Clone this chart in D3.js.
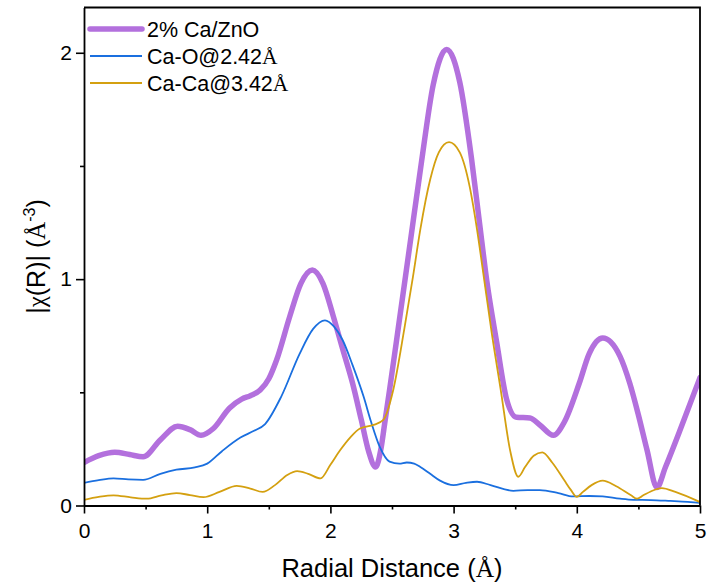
<!DOCTYPE html>
<html>
<head>
<meta charset="utf-8">
<script src="https://cdn.jsdelivr.net/npm/d3@7"></script>
<style>
  body { margin: 0; background: #fff; }
  svg { display: block; font-family: Arial, "Liberation Sans", sans-serif; }
</style>
</head>
<body>
<svg id="chart" width="723" height="586"></svg>
<script>
const margin = {top: 7.5, right: 23, bottom: 80.5, left: 84};
const width = 723 - margin.left - margin.right;
const height = 586 - margin.top - margin.bottom;

// 2% Ca/ZnO
const sampleR = [0, 0.12, 0.25, 0.37, 0.48, 0.62, 0.76, 0.86, 0.95, 1.05, 1.18, 1.28, 1.35, 1.43, 1.5, 1.564, 1.67, 1.76, 1.853, 1.94, 2.024, 2.1, 2.18, 2.25, 2.31, 2.367, 2.41, 2.44, 2.48, 2.55, 2.65, 2.74, 2.835, 2.944, 3.05, 3.146, 3.21, 3.27, 3.35, 3.43, 3.51, 3.62, 3.7, 3.81, 3.9, 4.02, 4.1, 4.21, 4.35, 4.43, 4.5, 4.57, 4.65, 4.72, 4.85, 5.0];
const sampleChi = [0.19, 0.22, 0.235, 0.225, 0.215, 0.29, 0.35, 0.335, 0.31, 0.34, 0.43, 0.47, 0.485, 0.51, 0.56, 0.644, 0.835, 0.98, 1.04, 0.98, 0.835, 0.69, 0.54, 0.38, 0.24, 0.17, 0.25, 0.36, 0.51, 0.78, 1.17, 1.52, 1.86, 2.015, 1.87, 1.53, 1.25, 0.99, 0.72, 0.47, 0.39, 0.387, 0.356, 0.31, 0.37, 0.54, 0.67, 0.74, 0.66, 0.54, 0.40, 0.245, 0.08, 0.17, 0.35, 0.565];

// Ca-O path
const caoR = [0, 0.12, 0.24, 0.36, 0.48, 0.62, 0.75, 0.9, 1.0, 1.12, 1.27, 1.38, 1.47, 1.6, 1.75, 1.86, 1.956, 2.03, 2.1, 2.18, 2.27, 2.33, 2.4, 2.48, 2.56, 2.62, 2.68, 2.73, 2.81, 2.89, 3.0, 3.1, 3.19, 3.3, 3.485, 3.6, 3.7, 3.85, 3.97, 4.1, 4.21, 4.35, 4.46, 4.6, 4.76, 4.9, 5.0];
const caoChi = [0.10, 0.112, 0.12, 0.115, 0.113, 0.14, 0.158, 0.168, 0.185, 0.24, 0.30, 0.33, 0.36, 0.48, 0.67, 0.78, 0.818, 0.79, 0.73, 0.62, 0.48, 0.37, 0.26, 0.194, 0.185, 0.19, 0.185, 0.17, 0.14, 0.11, 0.09, 0.10, 0.105, 0.09, 0.065, 0.068, 0.068, 0.055, 0.04, 0.042, 0.04, 0.03, 0.025, 0.024, 0.02, 0.016, 0.012];

// Ca-Ca path
const cacaR = [0, 0.12, 0.24, 0.38, 0.51, 0.63, 0.75, 0.86, 0.97, 1.1, 1.24, 1.35, 1.45, 1.55, 1.65, 1.73, 1.82, 1.92, 2.0, 2.08, 2.16, 2.24, 2.35, 2.43, 2.51, 2.6, 2.67, 2.73, 2.81, 2.88, 2.963, 3.05, 3.13, 3.19, 3.24, 3.31, 3.38, 3.46, 3.525, 3.58, 3.65, 3.72, 3.8, 3.9, 3.95, 4.0, 4.05, 4.12, 4.21, 4.32, 4.44, 4.49, 4.54, 4.6, 4.69, 4.8, 5.0];
const cacaChi = [0.025, 0.038, 0.045, 0.036, 0.03, 0.045, 0.055, 0.046, 0.037, 0.06, 0.087, 0.075, 0.06, 0.09, 0.135, 0.152, 0.14, 0.12, 0.18, 0.245, 0.30, 0.34, 0.356, 0.378, 0.51, 0.78, 1.01, 1.22, 1.44, 1.56, 1.605, 1.56, 1.41, 1.22, 1.03, 0.76, 0.52, 0.24, 0.127, 0.17, 0.22, 0.235, 0.19, 0.11, 0.07, 0.038, 0.06, 0.09, 0.11, 0.085, 0.045, 0.03, 0.045, 0.062, 0.077, 0.06, 0.015];

const xTicks = [0, 1, 2, 3, 4, 5];
const xMinorTicks = [0.5, 1.5, 2.5, 3.5, 4.5];
const yTicks = [0, 1, 2];
const yMinorTicks = [0.5, 1.5];

const series = [
  {name: "2% Ca/ZnO", r: sampleR, chi: sampleChi, color: "#B370DD", width: 5.5},
  {name: "Ca-O@2.42", r: caoR, chi: caoChi, color: "#1A6FDF", width: 1.8},
  {name: "Ca-Ca@3.42", r: cacaR, chi: cacaChi, color: "#D4A010", width: 1.8}
];

const svg = d3.select("#chart");
const g = svg.append("g").attr("transform", `translate(${margin.left},${margin.top})`);

const x = d3.scaleLinear().domain([0, 5]).range([0, width]);
const y = d3.scaleLinear().domain([0, 2.2]).range([height, 0]);

g.append("clipPath").attr("id", "plot-clip")
  .append("rect").attr("width", width).attr("height", height);

const line = d3.line()
  .x(d => x(d[0]))
  .y(d => y(d[1]))
  .curve(d3.curveMonotoneX);

const lines = g.append("g").attr("clip-path", "url(#plot-clip)");
series.forEach(s => {
  lines.append("path")
    .datum(s.r.map((r, i) => [r, s.chi[i]]))
    .attr("fill", "none")
    .attr("stroke", s.color)
    .attr("stroke-width", s.width)
    .attr("stroke-linejoin", "round")
    .attr("stroke-linecap", "round")
    .attr("d", line);
});

// axes
const xAxis = g.append("g").attr("transform", `translate(0,${height})`)
  .call(d3.axisBottom(x).tickValues(xTicks).tickFormat(d3.format("d")).tickSize(8).tickSizeOuter(0));
g.append("g").attr("transform", `translate(0,${height})`)
  .call(d3.axisBottom(x).tickValues(xMinorTicks).tickFormat("").tickSize(4).tickSizeOuter(0))
  .select(".domain").remove();

const yAxis = g.append("g")
  .call(d3.axisLeft(y).tickValues(yTicks).tickFormat(d3.format("d")).tickSize(8).tickSizeOuter(0));
g.append("g")
  .call(d3.axisLeft(y).tickValues(yMinorTicks).tickFormat("").tickSize(4).tickSizeOuter(0))
  .select(".domain").remove();

g.selectAll(".domain").attr("stroke", "#000").attr("stroke-width", 1.8);
g.selectAll(".tick line").attr("stroke", "#000").attr("stroke-width", 1.6);
xAxis.selectAll("text").attr("font-size", 21).attr("fill", "#000").attr("dy", "1.0em");
yAxis.selectAll("text").attr("font-size", 21).attr("fill", "#000").attr("dx", "-0.05em");
g.selectAll(".tick text").attr("font-family", "Arial, 'Liberation Sans', sans-serif");

// top and right frame
g.append("path")
  .attr("d", `M0,0H${width}V${height}`)
  .attr("fill", "none")
  .attr("stroke", "#000")
  .attr("stroke-width", 1.8);

// axis titles
const xTitle = svg.append("text")
  .attr("x", margin.left + width / 2)
  .attr("y", 577)
  .attr("text-anchor", "middle")
  .attr("font-size", 25.5)
  .attr("fill", "#000");
xTitle.append("tspan").text("Radial Distance (");
xTitle.append("tspan").attr("font-family", "'Liberation Serif', 'Times New Roman', serif").text("Å");
xTitle.append("tspan").text(")");

const yTitle = svg.append("text")
  .attr("transform", `translate(45,${margin.top + height / 2}) rotate(-90)`)
  .attr("text-anchor", "middle")
  .attr("font-size", 25)
  .attr("fill", "#000");
yTitle.append("tspan").text("|");
yTitle.append("tspan").attr("font-family", "'Liberation Serif', 'Times New Roman', serif").text("χ");
yTitle.append("tspan").text("(R)| (");
yTitle.append("tspan").attr("font-family", "'Liberation Serif', 'Times New Roman', serif").text("Å");
yTitle.append("tspan").attr("font-size", 16).attr("dy", -10).text("-3");
yTitle.append("tspan").attr("dy", 10).text(")");

// legend
const legend = svg.append("g").attr("transform", "translate(90,29)");
series.forEach((s, i) => {
  const row = legend.append("g").attr("transform", `translate(0,${i * 27})`);
  row.append("line")
    .attr("x1", 0).attr("x2", 52)
    .attr("stroke", s.color)
    .attr("stroke-width", s.width)
    .attr("stroke-linecap", i === 0 ? "round" : "butt");
  const t = row.append("text")
    .attr("x", 57)
    .attr("dy", "0.36em")
    .attr("font-size", 21.5)
    .attr("fill", "#000");
  t.append("tspan").text(s.name);
  if (i > 0) {
    t.append("tspan").attr("font-family", "'Liberation Serif', 'Times New Roman', serif").text("Å");
  }
});
</script>
</body>
</html>
